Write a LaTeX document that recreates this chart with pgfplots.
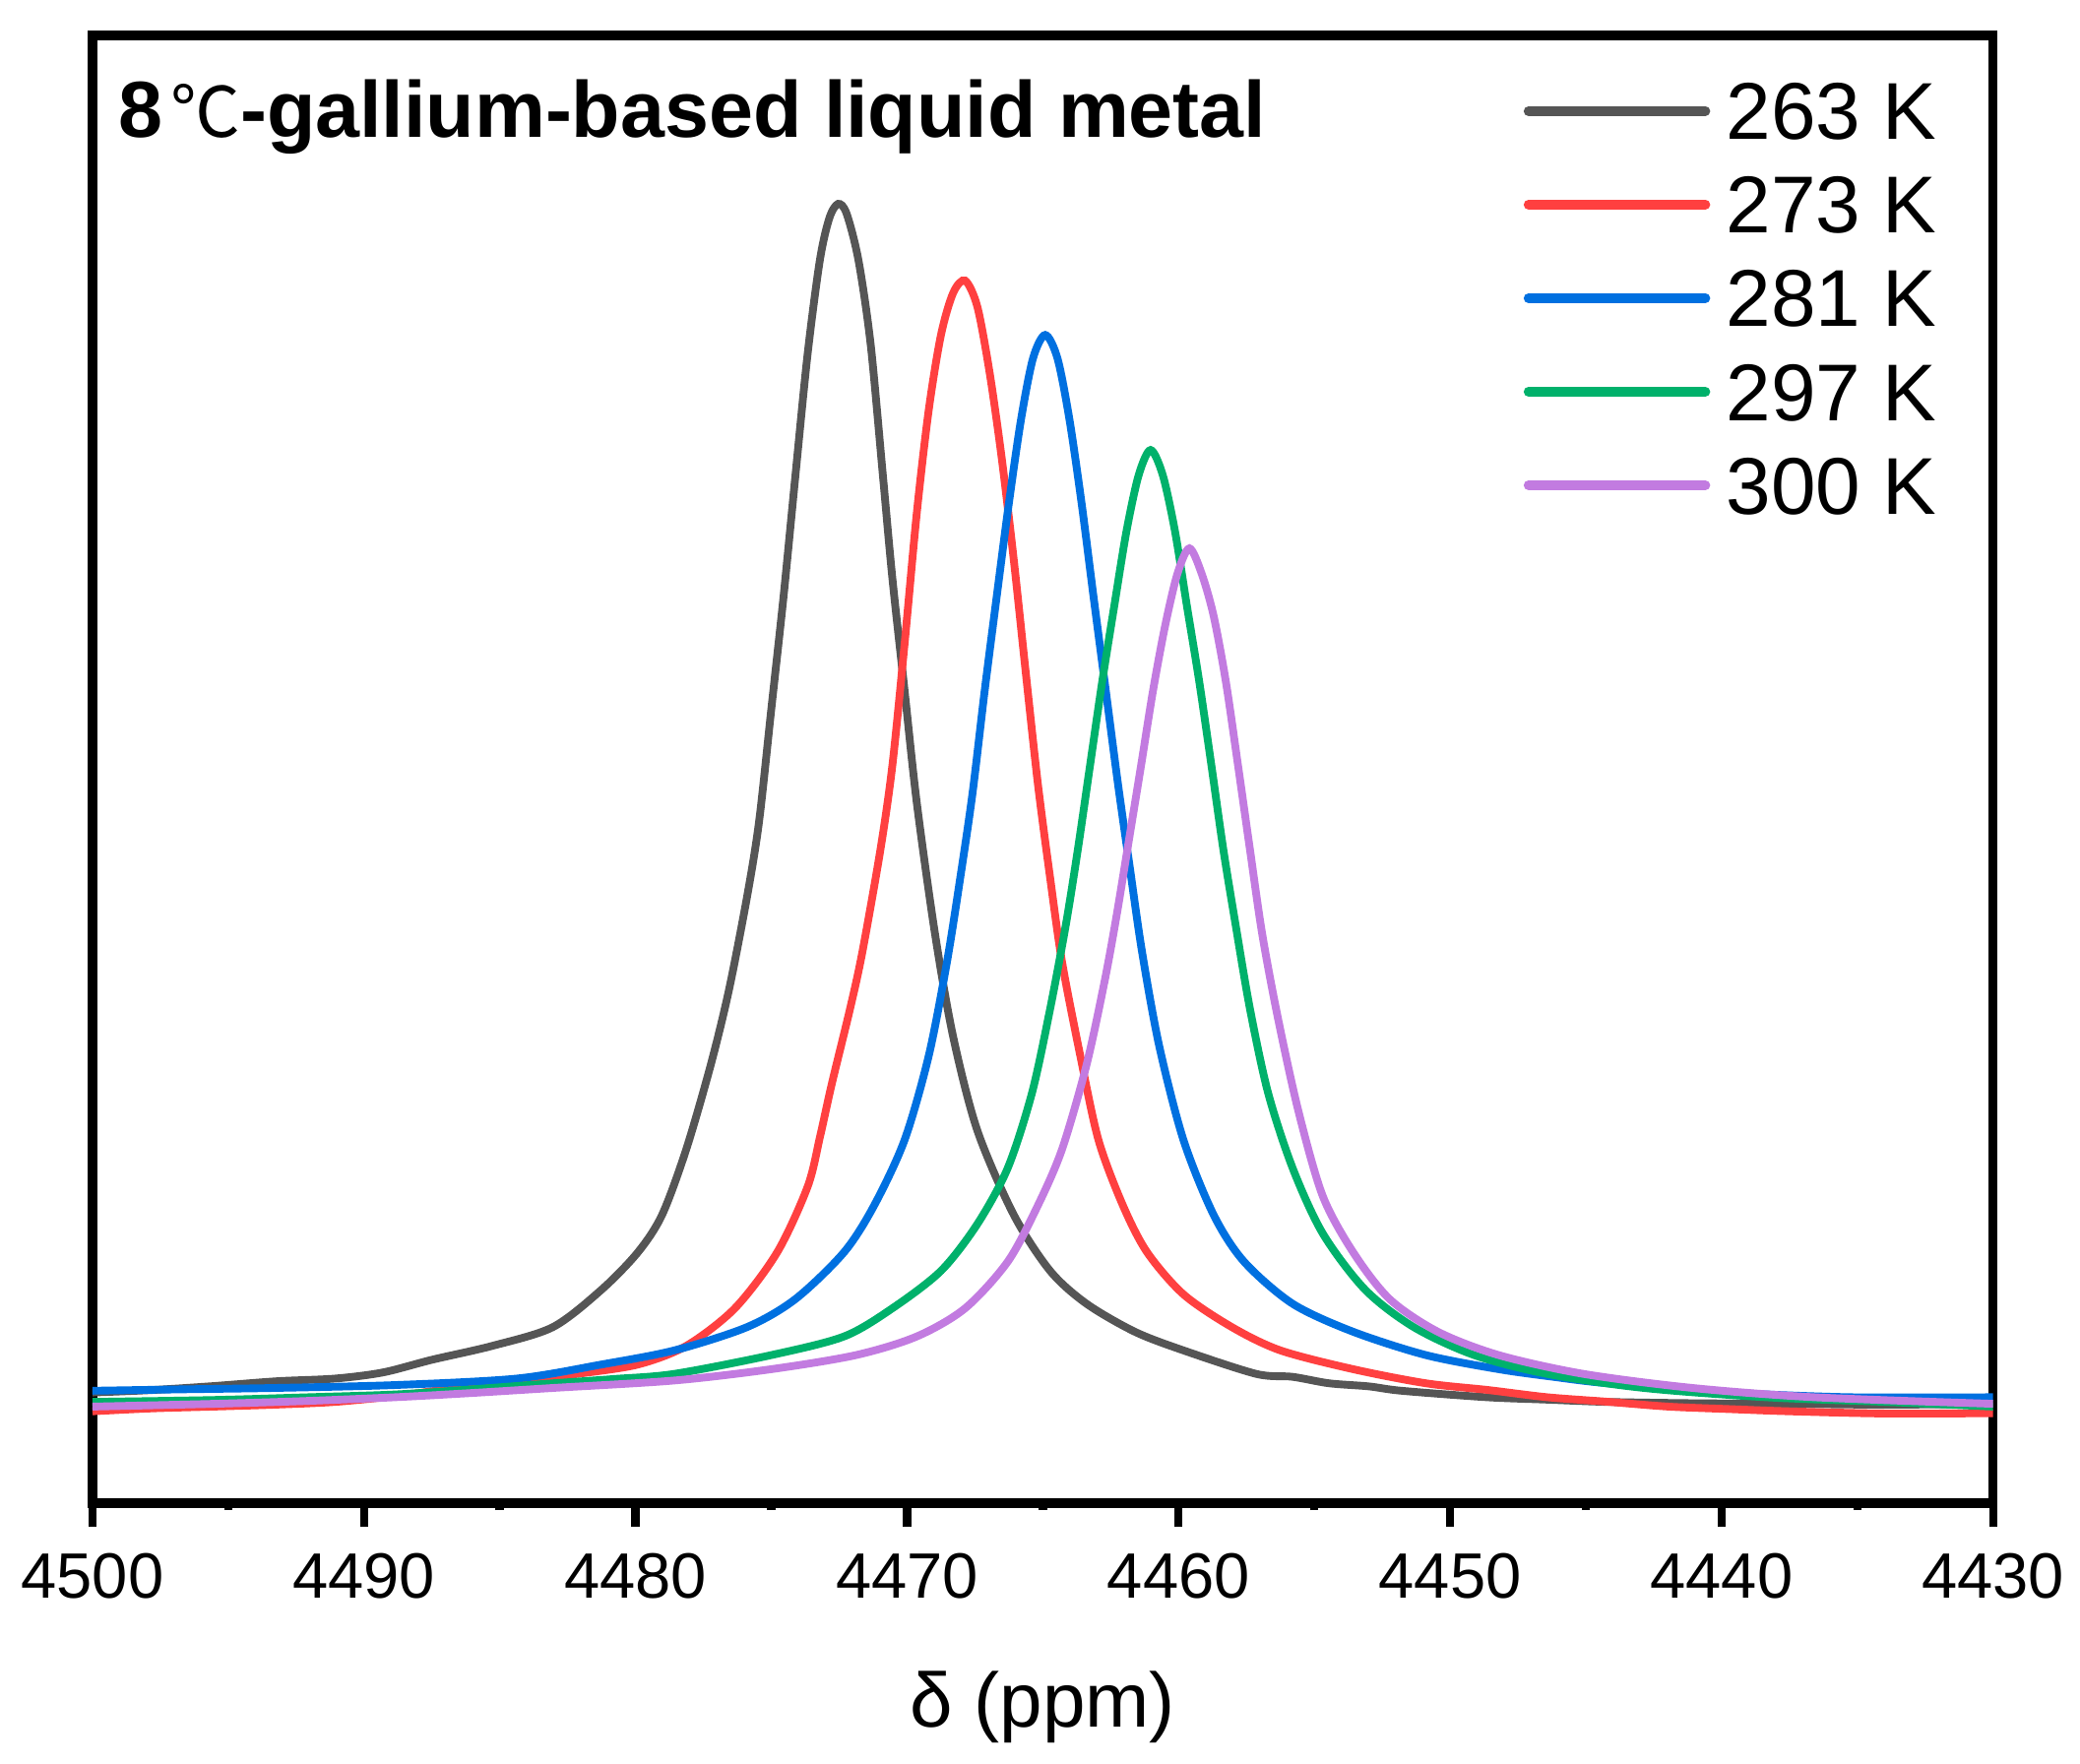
\documentclass[border=0pt]{standalone}
\usepackage{fontspec}
\setmainfont{Liberation Sans}
\newfontfamily\cjk{Noto Sans CJK SC}
\usepackage{pgfplots}
\pgfplotsset{compat=1.18}
\definecolor{cgray}{HTML}{555555}
\definecolor{cred}{HTML}{FF4040}
\definecolor{cblue}{HTML}{0070E0}
\definecolor{cgreen}{HTML}{00B16B}
\definecolor{cpurple}{HTML}{C27BE0}
\begin{document}
\begin{tikzpicture}
\path[use as bounding box] (-17.9pt,-50.5pt) rectangle (384.6pt,290.86pt);
\begin{axis}[
  scale only axis,
  width=367.8pt, height=284pt,
  at={(0,0)}, anchor=south west,
  xmin=4430, xmax=4500, x dir=reverse,
  ymin=0, ymax=100,
  ytick=\empty,
  xtick={4430,4440,...,4500},
  minor x tick num=1,
  xtick pos=bottom,
  tick align=outside,
  major tick length=4.5pt,
  minor tick length=1.4pt,
  every tick/.style={line width=1.6pt, black},
  axis line style={line width=1.8pt},
  /pgf/number format/assume math mode=true,
  /pgf/number format/1000 sep={},
  xticklabel style={font=\fontsize{12.4}{14}\selectfont, yshift=-1.8pt},
  xlabel={δ (ppm)},
  xlabel style={font=\fontsize{14.9}{17}\selectfont, at={(axis description cs:0.5,0)}, anchor=base, yshift=-43.3pt},
  legend cell align=left,
  legend style={at={(axis description cs:0.753,0.968)}, anchor=north west, draw=none, fill=none,
    inner sep=0pt, outer sep=0pt, font=\fontsize{15.6}{18}\selectfont,
    row sep=7.0pt, column sep=3.1pt,
    nodes={inner sep=0pt, text height=11.1pt, text depth=0pt}},
  legend image code/.code={\draw[#1, line width=1.9pt, line cap=round] (0pt,0pt) -- (34.2pt,0pt);},
  every axis plot/.append style={line width=1.5pt, smooth, tension=0.5},
]
\addplot[cgray] coordinates {
(4500,7.53)(4497.8,7.70)(4495.54,7.97)(4493.2,8.30)(4491.07,8.48)(4489.3,8.90)(4487.50,9.76)(4485.27,10.71)(4483.04,11.99)
(4481.25,14.54)(4479.91,17.09)(4479.02,19.64)(4478.13,24.11)(4477.23,29.85)(4476.56,34.95)
(4475.89,41.33)(4475.45,46.43)(4475.00,54.08)(4474.55,61.73)(4474.11,70.03)(4473.66,78.32)
(4473.21,84.69)(4472.86,87.56)(4472.54,88.52)(4472.23,87.88)(4471.79,84.69)(4471.34,78.95)
(4470.89,70.03)(4470.54,63.01)(4470.09,55.36)(4469.64,47.70)(4468.97,38.78)(4468.30,31.76)
(4467.41,25.38)(4466.07,19.64)(4464.73,15.82)(4463.39,13.58)(4461.61,11.67)(4459.82,10.40)
(4457.14,8.80)(4455.8,8.60)(4454.46,8.16)(4453.0,7.95)(4451.79,7.65)(4448.66,7.21)(4446.5,7.05)(4444.20,6.89)(4441.0,6.80)(4437.50,6.76)(4434,6.70)(4430,6.76)
};
\addlegendentry{263 K}
\addplot[cred] coordinates {
(4500,6.25)(4497.8,6.45)(4495.54,6.57)(4493.3,6.70)(4491.07,6.89)(4488.8,7.30)(4486.61,7.84)(4484.4,8.30)(4482.14,8.80)(4479.91,9.44)
(4478.13,10.71)(4476.34,13.27)(4474.78,17.09)(4473.66,21.56)(4473.2,25.0)(4472.77,28.57)(4472.10,33.67)
(4471.65,37.50)(4470.98,44.52)(4470.54,50.26)(4470.09,58.55)(4469.64,67.47)(4469.20,74.49)
(4468.75,79.59)(4468.30,82.46)(4467.86,83.29)(4467.41,81.51)(4466.96,77.04)(4466.52,71.30)
(4466.07,64.29)(4465.63,56.63)(4465.18,48.98)(4464.73,42.60)(4464.29,36.86)(4463.62,30.48)
(4462.95,24.74)(4462.05,20.28)(4461.16,17.09)(4459.82,14.22)(4458.04,11.99)(4456.25,10.40)
(4453.57,9.12)(4450.89,8.16)(4448.6,7.70)(4446.43,7.21)(4444.2,6.90)(4441.96,6.57)(4439.7,6.40)(4437.50,6.25)(4434,6.10)(4430,6.12)
};
\addlegendentry{273 K}
\addplot[cblue] coordinates {
(4500,7.65)(4496.6,7.75)(4493.30,7.84)(4488.84,8.04)(4484.38,8.48)(4481.25,9.44)(4478.57,10.40)
(4475.89,11.99)(4474.11,13.90)(4472.32,17.09)(4471.21,20.28)(4470.09,24.74)(4469.20,30.48)
(4468.53,36.86)(4468.04,42.60)(4467.59,48.34)(4467.14,55.36)(4466.70,61.73)(4466.25,68.11)
(4465.80,73.85)(4465.36,78.00)(4464.91,79.59)(4464.46,78.00)(4464.02,73.85)(4463.57,68.11)
(4463.13,61.73)(4462.68,55.36)(4462.23,48.98)(4461.79,43.24)(4461.34,37.50)(4460.71,31.12)
(4459.82,24.74)(4458.71,19.64)(4457.59,16.45)(4455.80,13.58)(4453.57,11.67)(4450.89,10.08)
(4448.21,9.12)(4446.2,8.60)(4444.20,8.16)(4439.73,7.53)(4435.27,7.21)(4430,7.21)
};
\addlegendentry{281 K}
\addplot[cgreen] coordinates {
(4500,6.89)(4495.54,7.02)(4492.2,7.20)(4488.84,7.40)(4486.0,7.75)(4483.04,8.16)(4480.8,8.45)(4478.57,8.80)(4475.00,10.08)
(4472.32,11.35)(4470.54,13.27)(4468.75,15.82)(4467.41,19.01)(4466.29,22.83)(4465.40,27.93)
(4464.73,33.67)(4464.15,39.41)(4463.71,44.52)(4463.26,50.26)(4462.81,55.99)(4462.37,61.10)
(4461.92,66.20)(4461.47,70.03)(4461.03,71.75)(4460.58,70.03)(4460.13,66.20)(4459.69,61.10)
(4459.24,55.99)(4458.79,50.26)(4458.35,44.52)(4457.90,39.41)(4457.37,33.67)(4456.70,27.93)
(4455.80,22.83)(4454.69,18.37)(4453.13,14.54)(4451.34,11.99)(4449.11,10.08)(4446.43,8.80)
(4442.86,7.84)(4438.39,7.21)(4433.93,6.89)(4430,6.57)
};
\addlegendentry{297 K}
\addplot[cpurple] coordinates {
(4500,6.57)(4495.54,6.76)(4492.2,6.95)(4488.84,7.21)(4486.0,7.50)(4483.04,7.84)(4478.57,8.35)(4475.00,9.12)
(4471.88,10.08)(4469.64,11.35)(4467.86,13.27)(4466.29,16.45)(4465.18,20.28)(4464.29,24.11)
(4463.39,29.85)(4462.72,35.59)(4462.28,40.05)(4461.83,45.15)(4461.38,50.26)(4460.94,55.36)
(4460.49,59.82)(4460.04,63.33)(4459.60,65.05)(4459.15,63.33)(4458.71,60.46)(4458.26,55.99)
(4457.81,50.26)(4457.37,44.52)(4456.92,38.78)(4456.34,33.04)(4455.58,26.66)(4454.69,20.92)
(4453.57,17.09)(4452.23,13.90)(4450.45,11.67)(4448.21,10.08)(4445.09,8.80)(4441.07,7.84)
(4436.61,7.21)(4430,6.76)
};
\addlegendentry{300 K}
\node[anchor=base west, inner sep=0pt, font=\fontsize{15.4}{18}\selectfont\bfseries]
  at (axis description cs:0,1) [xshift=4.8pt, yshift=-19.8pt] {8\hspace{0.1em}{\mdseries\cjk\fontsize{13.5}{16}\selectfont ℃}-gallium-based liquid metal};
\end{axis}
\end{tikzpicture}
\end{document}
